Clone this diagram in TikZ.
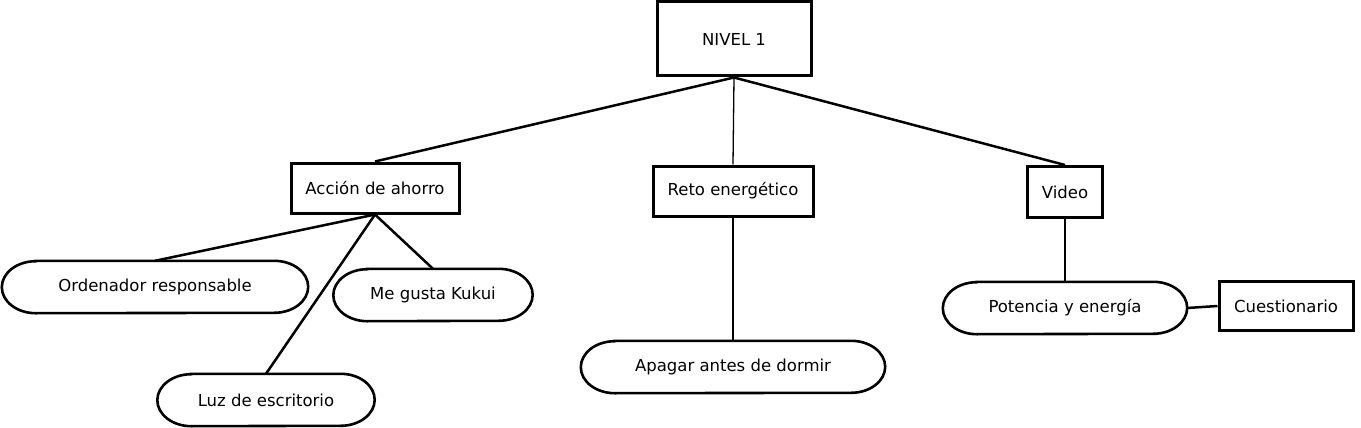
\documentclass[tikz,border=0pt]{standalone}
\usepackage{fontspec}
\setmainfont{DejaVu Sans}
\begin{document}
\begin{tikzpicture}[x=1pt,y=-1pt,
  every node/.style={font=\fontsize{16.5}{19}\selectfont, text=black, inner sep=0pt},
  sqbox/.style={draw, line width=3pt},
  pill/.style={minimum height=52pt},
  pillline/.style={line width=2.6pt},
  thickline/.style={line width=2.5pt},
  thinline/.style={line width=1.3pt}]
\useasboundingbox (0,0) rectangle (1361,428);
\node[sqbox, minimum width=154pt, minimum height=74pt] (n1) at (734,39) {NIVEL 1};
\node[sqbox, minimum width=168pt, minimum height=50pt] (accion) at (375,188) {Acción de ahorro};
\node[sqbox, minimum width=160pt, minimum height=50pt] (reto) at (733,191) {Reto energético};
\node[sqbox, minimum width=75pt, minimum height=51pt] (video) at (1065,192) {Video};
\node[pill, minimum width=244pt] (pot) at (1065,308) {Potencia y energía};
\node[sqbox, minimum width=134pt, minimum height=49pt] (cues) at (1286,306) {Cuestionario};
\node[pill, minimum width=306pt] (orden) at (155,287) {Ordenador responsable};
\node[pill, minimum width=199pt] (kukui) at (433,295) {Me gusta Kukui};
\node[pill, minimum width=217pt] (luz) at (266,400) {Luz de escritorio};
\node[pill, minimum width=304pt] (apagar) at (733,367) {Apagar antes de dormir};
\foreach \n in {pot,orden,kukui,luz,apagar}
  \draw[pillline] ([xshift=34pt]\n.north west) -- ([xshift=-34pt]\n.north east)
    arc[start angle=90, end angle=-90, x radius=34pt, y radius=26pt]
    -- ([xshift=34pt]\n.south west)
    arc[start angle=270, end angle=90, x radius=34pt, y radius=26pt] -- cycle;
\draw[thickline] (n1.south) -- (accion.north);
\draw[thinline] (n1.south) -- (reto.north);
\draw[thickline] (n1.south) -- (video.north);
\draw[thickline] (accion.south) -- (orden.north);
\draw[thickline] (accion.south) -- (kukui.north);
\draw[thickline] (accion.south) -- (luz.north);
\draw[thinline] (reto.south) -- (apagar.north);
\draw[thinline] (video.south) -- (pot.north);
\draw[thickline] (pot.east) -- (cues.west);
\end{tikzpicture}
\end{document}
